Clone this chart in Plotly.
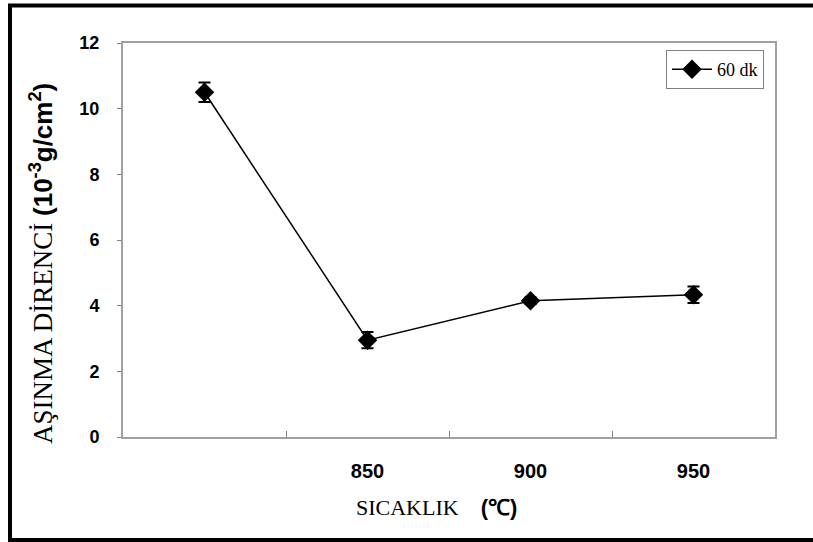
import plotly.graph_objects as go

categories = [" ", "850", "900", "950"]
wear = [10.5, 2.95, 4.15, 4.33]
wear_err = [0.3, 0.25, 0.1, 0.25]
series_name = "60 dk"
y_ticks = [0, 2, 4, 6, 8, 10, 12]

W, H = 813, 542
L, R, T, B = 123, 38, 43, 105
pw, ph = W - L - R, H - T - B

def px(x):
    return (x - L) / pw

def py(y):
    return (H - B - y) / ph

fig = go.Figure()
fig.add_trace(go.Scatter(
    x=categories, y=wear, name=series_name, mode="lines+markers",
    line=dict(color="black", width=1.5),
    marker=dict(symbol="diamond", size=15, color="black"),
    error_y=dict(type="data", array=wear_err, visible=True, color="black", thickness=2, width=6),
))

fig.update_layout(
    width=W, height=H,
    margin=dict(l=L, r=R, t=T, b=B),
    paper_bgcolor="white", plot_bgcolor="white",
    showlegend=True,
    legend=dict(x=px(666), y=py(50), xanchor="left", yanchor="top",
                bordercolor="#808080", borderwidth=1, bgcolor="white",
                font=dict(family="Liberation Serif", size=18, color="black"),
                itemwidth=40, tracegroupgap=0),
    xaxis=dict(type="category", categoryorder="array", categoryarray=categories,
               range=[-0.5, 3.5], tickson="boundaries", ticks="inside", ticklen=6,
               tickcolor="#808080", showline=True, linecolor="#a0a0a0", linewidth=2,
               mirror=True, showgrid=False, zeroline=False,
               tickfont=dict(family="Liberation Sans", size=20, color="black", weight="bold"),
               ticklabelstandoff=15),
    yaxis=dict(range=[0, 12], tickvals=y_ticks, ticks="outside", ticklen=4,
               tickcolor="#808080", showline=True, linecolor="#a0a0a0", linewidth=2,
               mirror=True, showgrid=False, zeroline=False,
               tickfont=dict(family="Liberation Sans", size=18, color="black", weight="bold"),
               ticklabelstandoff=14),
    annotations=[
        dict(text="AŞINMA DİRENCİ <span style='font-family:Liberation Sans;font-weight:bold;font-size:26px'>(10<sup>-3</sup>g/cm<sup>2</sup>)</span>",
             x=px(41), y=py(264), xref="paper", yref="paper", textangle=-90,
             xanchor="center", yanchor="middle",
             showarrow=False, font=dict(family="Liberation Serif", size=27, color="black")),
        dict(text="SICAKLIK    <span style='font-family:Liberation Sans;font-weight:bold;font-size:22px'>(℃)</span>",
             x=px(436), y=py(507), xref="paper", yref="paper",
             xanchor="center", yanchor="middle",
             showarrow=False, font=dict(family="Liberation Serif", size=22, color="black")),
    ],
    shapes=[
        dict(type="line", xref="paper", yref="paper", x0=px(8), x1=px(830), y0=py(5.5), y1=py(5.5),
             line=dict(color="black", width=4)),
        dict(type="line", xref="paper", yref="paper", x0=px(10), x1=px(10), y0=py(4), y1=py(545),
             line=dict(color="black", width=4)),
        dict(type="line", xref="paper", yref="paper", x0=px(8), x1=px(830), y0=py(540), y1=py(540),
             line=dict(color="black", width=4)),
    ],
)

fig.write_html("out.html", config={"displayModeBar": False},
               post_script="document.body.style.margin='0';")
